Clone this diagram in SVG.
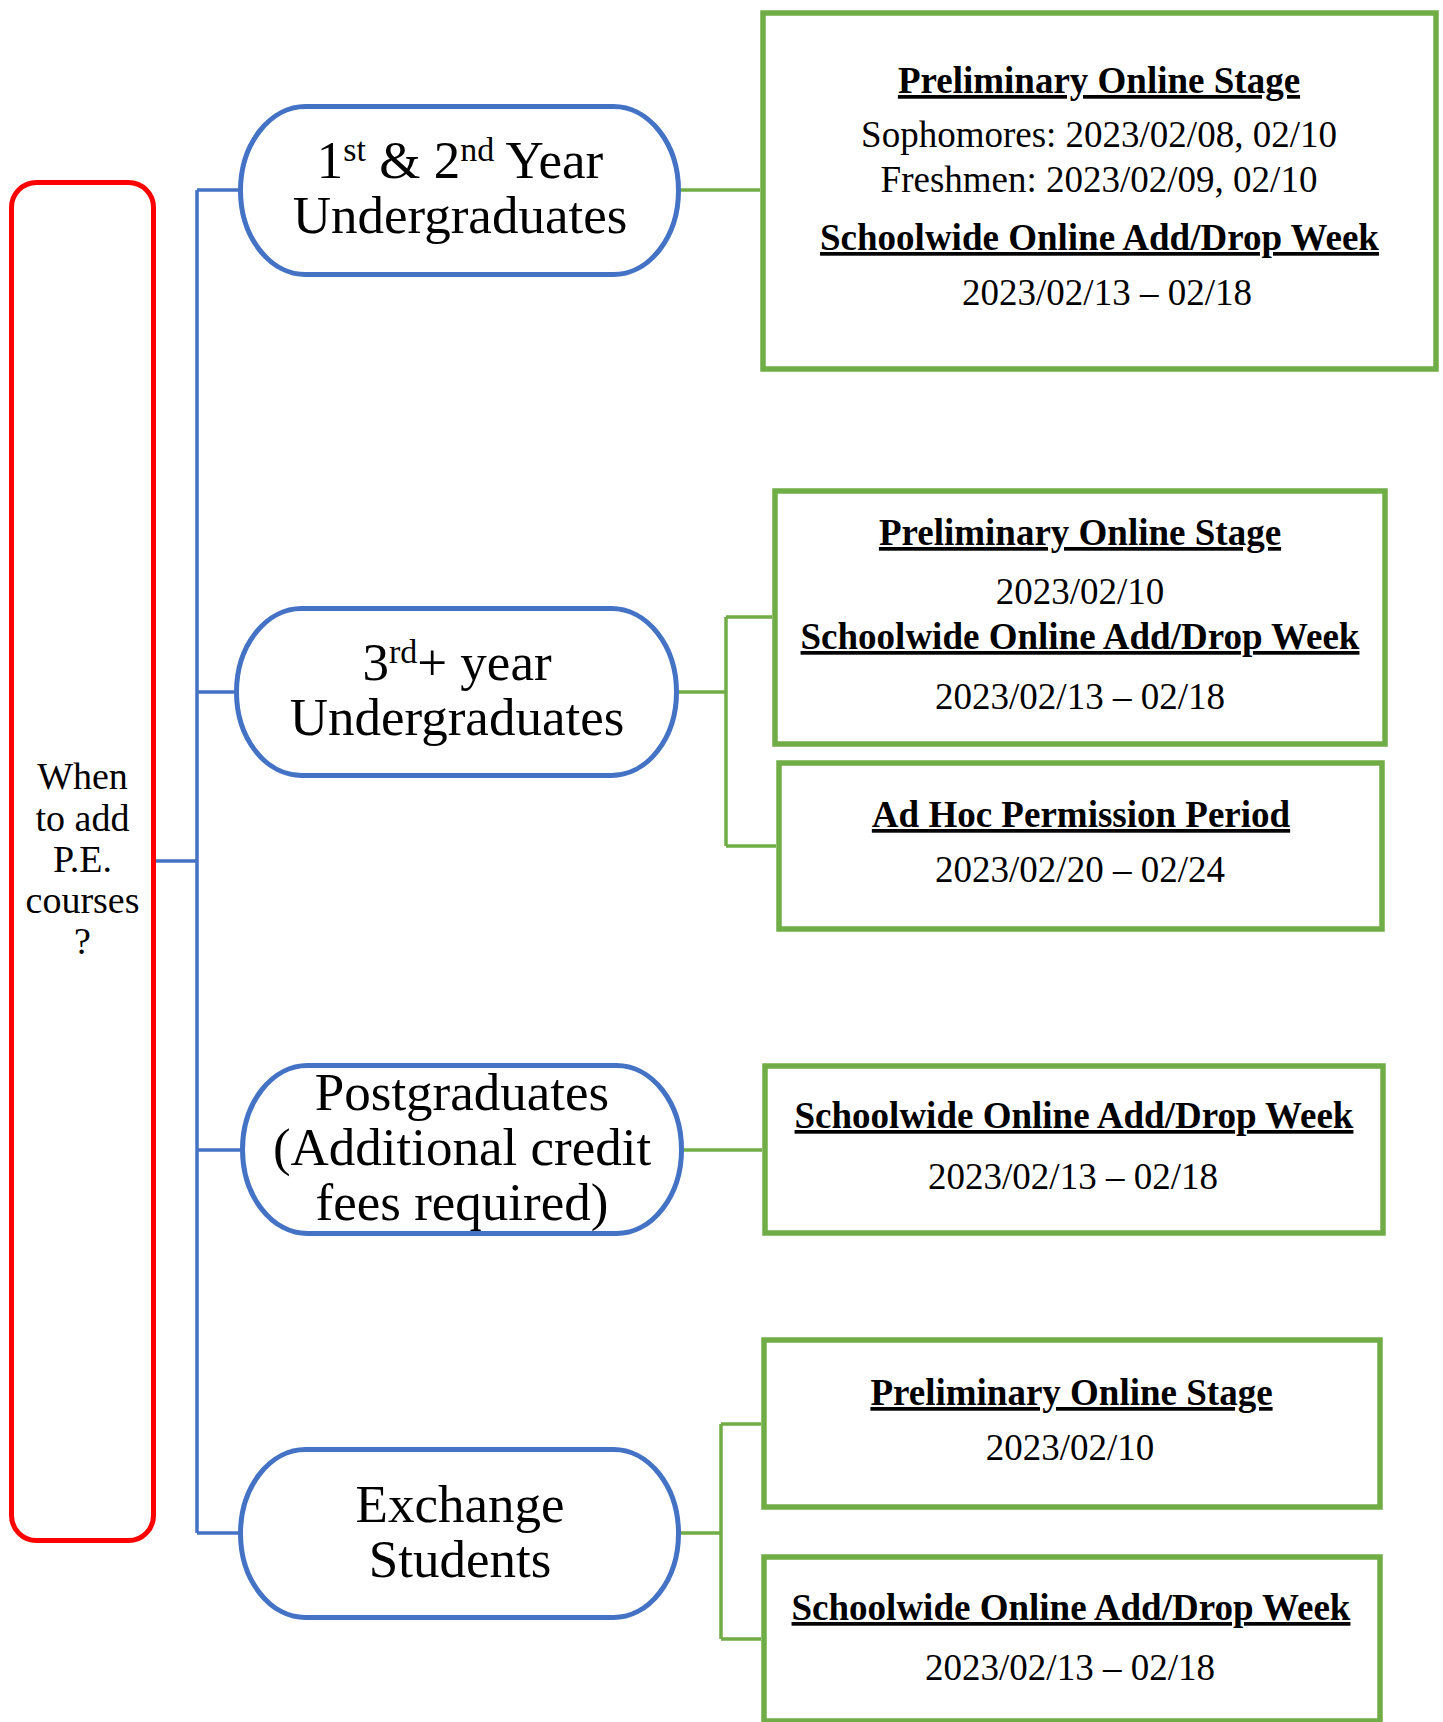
<svg xmlns="http://www.w3.org/2000/svg" width="1443" height="1722" viewBox="0 0 1443 1722">
<style>
  text { font-family: "Liberation Serif", "Times New Roman", serif; fill: #000; text-anchor: middle; }
  .pilltxt { font-size: 53px; }
  .sup { font-size: 34px; }
  .root { font-size: 38px; }
  .h { font-size: 37px; font-weight: bold; text-decoration: underline; }
  .d { font-size: 37px; }
  .pill { fill: #fff; stroke: #4472C4; stroke-width: 5; }
  .box { fill: #fff; stroke: #70AD47; stroke-width: 5.5; }
  .blue { fill: none; stroke: #4472C4; stroke-width: 3.5; }
  .green { fill: none; stroke: #70AD47; stroke-width: 3.5; }
</style>
<rect width="1443" height="1722" fill="#fff"/>

<g id="connectors">
  <path class="blue" d="M156 861 H197 M197 190 V1533 M197 190 H238 M197 692 H234 M197 1150 H240 M197 1533 H238"/>
  <path class="green" d="M681 190 H760"/>
  <path class="green" d="M679 692 H726 M726 617 V846 M726 617 H772 M726 846 H776"/>
  <path class="green" d="M684 1150 H762"/>
  <path class="green" d="M681 1533 H721 M721 1424 V1639 M721 1424 H761 M721 1639 H761"/>
</g>

<g id="root">
  <rect x="11.5" y="182.5" width="142" height="1358" rx="25" ry="25" fill="#fff" stroke="#FF0000" stroke-width="5"/>
  <text class="root" x="82.5" y="789">When</text>
  <text class="root" x="82.5" y="831">to add</text>
  <text class="root" x="82.5" y="872">P.E.</text>
  <text class="root" x="82.5" y="913">courses</text>
  <text class="root" x="82.5" y="954">?</text>
</g>

<g id="pill1">
  <rect class="pill" x="240.5" y="106.5" width="438" height="168" rx="65" ry="84"/>
  <text class="pilltxt" x="460" y="178">1<tspan class="sup" dy="-17">st</tspan><tspan dy="17"> &amp; 2</tspan><tspan class="sup" dy="-17">nd</tspan><tspan dy="17"> Year</tspan></text>
  <text class="pilltxt" x="460" y="233">Undergraduates</text>
</g>

<g id="pill2">
  <rect class="pill" x="236.5" y="608.5" width="440" height="167" rx="65" ry="83.5"/>
  <text class="pilltxt" x="457" y="680">3<tspan class="sup" dy="-17">rd</tspan><tspan dy="17">+ year</tspan></text>
  <text class="pilltxt" x="457" y="735">Undergraduates</text>
</g>

<g id="pill3">
  <rect class="pill" x="242.5" y="1065.5" width="439" height="168" rx="65" ry="84"/>
  <text class="pilltxt" x="462" y="1110">Postgraduates</text>
  <text class="pilltxt" x="462" y="1165">(Additional credit</text>
  <text class="pilltxt" x="462" y="1220">fees required)</text>
</g>

<g id="pill4">
  <rect class="pill" x="240.5" y="1449.5" width="438" height="168" rx="65" ry="84"/>
  <text class="pilltxt" x="460" y="1522">Exchange</text>
  <text class="pilltxt" x="460" y="1577">Students</text>
</g>

<g id="box1">
  <rect class="box" x="763" y="13" width="673" height="356"/>
  <text class="h" x="1099" y="93">Preliminary Online Stage</text>
  <text class="d" x="1099" y="147">Sophomores: 2023/02/08, 02/10</text>
  <text class="d" x="1099" y="192">Freshmen: 2023/02/09, 02/10</text>
  <text class="h" x="1099.5" y="250">Schoolwide Online Add/Drop Week</text>
  <text class="d" x="1107" y="305">2023/02/13 – 02/18</text>
</g>

<g id="box2">
  <rect class="box" x="775" y="491" width="610" height="253"/>
  <text class="h" x="1080" y="545">Preliminary Online Stage</text>
  <text class="d" x="1080" y="604">2023/02/10</text>
  <text class="h" x="1080" y="649">Schoolwide Online Add/Drop Week</text>
  <text class="d" x="1080" y="709">2023/02/13 – 02/18</text>
</g>

<g id="box3">
  <rect class="box" x="779" y="763" width="603" height="166"/>
  <text class="h" x="1081" y="827">Ad Hoc Permission Period</text>
  <text class="d" x="1080" y="882">2023/02/20 – 02/24</text>
</g>

<g id="box4">
  <rect class="box" x="765" y="1066" width="618" height="167"/>
  <text class="h" x="1074" y="1128">Schoolwide Online Add/Drop Week</text>
  <text class="d" x="1073" y="1189">2023/02/13 – 02/18</text>
</g>

<g id="box5">
  <rect class="box" x="764" y="1340" width="616" height="167"/>
  <text class="h" x="1071.5" y="1405">Preliminary Online Stage</text>
  <text class="d" x="1070" y="1460">2023/02/10</text>
</g>

<g id="box6">
  <rect class="box" x="764" y="1557" width="616" height="164"/>
  <text class="h" x="1071" y="1620">Schoolwide Online Add/Drop Week</text>
  <text class="d" x="1070" y="1680">2023/02/13 – 02/18</text>
</g>
</svg>
